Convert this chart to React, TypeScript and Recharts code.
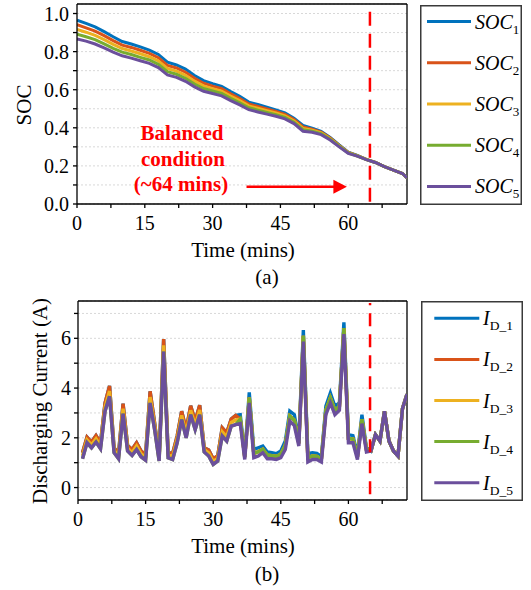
import React from 'react';
import { LineChart, Line, XAxis, YAxis, CartesianGrid, ReferenceLine, ReferenceDot, Legend } from 'recharts';

const FONT = 'Liberation Serif, Times New Roman, Times, serif';
const COLORS = ['#0072BD', '#D95319', '#EDB120', '#77AC30', '#6B4F9C'];

// ---- (a) SOC data ----
const socTime = [0, 2, 4, 6, 8, 10, 12, 14, 16, 18, 20, 22, 24, 26, 28, 30, 32, 34, 36, 38, 40, 42, 44, 46, 48, 50, 52, 54, 56, 58, 60, 62, 64, 66, 68, 70, 72, 73];
const soc1 = [0.965, 0.948, 0.930, 0.905, 0.878, 0.853, 0.840, 0.825, 0.808, 0.785, 0.745, 0.730, 0.708, 0.675, 0.648, 0.632, 0.618, 0.590, 0.565, 0.535, 0.522, 0.508, 0.494, 0.478, 0.450, 0.412, 0.398, 0.382, 0.350, 0.310, 0.272, 0.255, 0.234, 0.218, 0.196, 0.178, 0.160, 0.137];
const soc2 = [0.941, 0.925, 0.908, 0.884, 0.858, 0.834, 0.822, 0.807, 0.791, 0.768, 0.728, 0.714, 0.692, 0.660, 0.634, 0.619, 0.606, 0.578, 0.554, 0.525, 0.512, 0.499, 0.486, 0.470, 0.443, 0.405, 0.393, 0.378, 0.347, 0.308, 0.271, 0.254, 0.234, 0.218, 0.196, 0.178, 0.160, 0.137];
const soc3 = [0.916, 0.902, 0.885, 0.863, 0.838, 0.816, 0.803, 0.789, 0.773, 0.751, 0.712, 0.698, 0.676, 0.645, 0.620, 0.606, 0.593, 0.567, 0.543, 0.515, 0.503, 0.490, 0.478, 0.463, 0.436, 0.397, 0.388, 0.373, 0.343, 0.305, 0.269, 0.253, 0.234, 0.218, 0.196, 0.178, 0.160, 0.137];
const soc4 = [0.892, 0.878, 0.863, 0.841, 0.817, 0.797, 0.785, 0.770, 0.756, 0.733, 0.695, 0.681, 0.660, 0.630, 0.606, 0.593, 0.581, 0.555, 0.531, 0.505, 0.493, 0.481, 0.469, 0.455, 0.429, 0.390, 0.382, 0.369, 0.340, 0.303, 0.268, 0.252, 0.233, 0.218, 0.196, 0.178, 0.160, 0.137];
const soc5 = [0.867, 0.855, 0.840, 0.820, 0.797, 0.778, 0.766, 0.752, 0.738, 0.716, 0.678, 0.665, 0.644, 0.615, 0.592, 0.580, 0.568, 0.543, 0.520, 0.495, 0.483, 0.472, 0.461, 0.447, 0.422, 0.382, 0.377, 0.364, 0.336, 0.300, 0.266, 0.251, 0.233, 0.218, 0.196, 0.178, 0.160, 0.137];

// ---- (b) discharging current data ----
const iTime = [1, 2, 3, 4, 5, 6, 7, 8, 9, 10, 11, 12, 13, 14, 15, 16, 17, 18, 19, 20, 21, 22, 23, 24, 25, 26, 27, 28, 29, 30, 31, 32, 33, 34, 35, 36, 37, 38, 39, 40, 41, 42, 43, 44, 45, 46, 47, 48, 49, 50, 51, 52, 53, 54, 55, 56, 57, 58, 59, 60, 61, 62, 63, 64, 65, 66, 67, 68, 69, 70, 71, 72, 73];
const id1 = [1.40, 2.03, 1.83, 2.09, 1.80, 3.40, 4.09, 1.60, 1.36, 3.37, 1.69, 1.53, 1.80, 1.47, 1.33, 3.87, 2.60, 1.20, 5.97, 1.40, 1.37, 2.07, 3.07, 2.33, 3.29, 2.67, 3.31, 1.60, 1.51, 1.16, 1.27, 2.40, 2.20, 2.76, 2.90, 2.93, 1.30, 3.83, 1.53, 1.60, 1.67, 1.43, 1.40, 1.36, 1.47, 1.87, 3.07, 2.93, 1.87, 6.33, 1.36, 1.40, 1.37, 1.24, 3.27, 3.80, 3.27, 3.40, 6.64, 2.13, 2.09, 1.33, 2.93, 1.60, 1.47, 2.13, 1.87, 3.07, 1.87, 1.47, 1.27, 3.17, 3.75];
const id2 = [1.40, 2.03, 1.83, 2.09, 1.80, 3.40, 4.09, 1.60, 1.36, 3.37, 1.69, 1.53, 1.80, 1.47, 1.33, 3.87, 2.60, 1.20, 5.97, 1.40, 1.37, 2.07, 3.07, 2.33, 3.29, 2.67, 3.31, 1.60, 1.51, 1.16, 1.27, 2.40, 2.20, 2.76, 2.90, 2.75, 1.22, 3.62, 1.37, 1.44, 1.54, 1.30, 1.28, 1.25, 1.34, 1.70, 2.87, 2.71, 1.77, 6.10, 1.20, 1.27, 1.25, 1.14, 3.10, 3.60, 3.10, 3.26, 6.41, 1.97, 1.95, 1.23, 2.75, 1.52, 1.47, 2.13, 1.87, 3.07, 1.87, 1.47, 1.27, 3.17, 3.75];
const id3 = [1.28, 1.92, 1.72, 1.96, 1.68, 3.24, 3.88, 1.50, 1.26, 3.17, 1.58, 1.41, 1.67, 1.36, 1.22, 3.64, 2.47, 1.14, 5.72, 1.30, 1.25, 1.94, 2.90, 2.17, 3.11, 2.50, 3.12, 1.52, 1.39, 1.05, 1.17, 2.24, 2.04, 2.62, 2.72, 2.75, 1.22, 3.62, 1.37, 1.44, 1.54, 1.30, 1.28, 1.25, 1.34, 1.70, 2.87, 2.71, 1.77, 6.10, 1.20, 1.27, 1.25, 1.14, 3.10, 3.60, 3.10, 3.26, 6.41, 1.97, 1.95, 1.23, 2.75, 1.52, 1.47, 2.13, 1.87, 3.07, 1.87, 1.47, 1.27, 3.17, 3.75];
const id4 = [1.16, 1.80, 1.60, 1.83, 1.56, 3.07, 3.67, 1.40, 1.16, 2.97, 1.47, 1.29, 1.53, 1.24, 1.10, 3.40, 2.33, 1.07, 5.47, 1.20, 1.13, 1.80, 2.73, 2.00, 2.93, 2.33, 2.93, 1.43, 1.27, 0.93, 1.07, 2.07, 1.87, 2.47, 2.53, 2.75, 1.22, 3.62, 1.37, 1.44, 1.54, 1.30, 1.28, 1.25, 1.34, 1.70, 2.87, 2.71, 1.77, 6.10, 1.20, 1.27, 1.25, 1.14, 3.10, 3.60, 3.10, 3.26, 6.41, 1.97, 1.95, 1.23, 2.75, 1.52, 1.47, 2.13, 1.87, 3.07, 1.87, 1.47, 1.27, 3.17, 3.75];
const id5 = [1.16, 1.80, 1.60, 1.83, 1.56, 3.07, 3.67, 1.40, 1.16, 2.97, 1.47, 1.29, 1.53, 1.24, 1.10, 3.40, 2.33, 1.07, 5.47, 1.20, 1.13, 1.80, 2.73, 2.00, 2.93, 2.33, 2.93, 1.43, 1.27, 0.93, 1.07, 2.07, 1.87, 2.47, 2.53, 2.57, 1.13, 3.40, 1.20, 1.27, 1.40, 1.16, 1.16, 1.13, 1.20, 1.53, 2.67, 2.49, 1.67, 5.87, 1.03, 1.13, 1.13, 1.03, 2.93, 3.40, 2.93, 3.11, 6.17, 1.80, 1.80, 1.13, 2.57, 1.43, 1.47, 2.13, 1.87, 3.07, 1.87, 1.47, 1.27, 3.17, 3.75];

// ---- ticks / labels ----
const xTicks = [0, 7.5, 15, 22.5, 30, 37.5, 45, 52.5, 60, 67.5];
const socTicks = [0, 0.1, 0.2, 0.3, 0.4, 0.5, 0.6, 0.7, 0.8, 0.9, 1.0];
const curTicks = [0, 1, 2, 3, 4, 5, 6, 7];
const socSubs = ['1', '2', '3', '4', '5'];
const curSubs = ['D_1', 'D_2', 'D_3', 'D_4', 'D_5'];

// annotation positions (data units)
const BAL_T = 64.8;
const ARROW_Y = 0.091;
const ARROW_FROM = 37.5;
const ARROW_SHAFT_END = 57;
const ARROW_TIP = 59.7;

const socRows = socTime.map((t, i) => ({ t, s1: soc1[i], s2: soc2[i], s3: soc3[i], s4: soc4[i], s5: soc5[i] }));
const curRows = iTime.map((t, i) => ({ t, c1: id1[i], c2: id2[i], c3: id3[i], c4: id4[i], c5: id5[i] }));

const fmtX = (v: number) => (v % 15 === 0 ? String(v) : '');
const fmtSoc = (v: number) => (Math.round(v * 10) % 2 === 0 ? v.toFixed(1) : '');
const fmtCur = (v: number) => (v % 2 === 0 ? String(v) : '');

const serif = { fontFamily: FONT };
const tickStyle = { fill: '#000', fontSize: 20, fontFamily: FONT, style: serif };
const axisLineStyle = { stroke: '#000', strokeWidth: 1.3 };

const SocLegend = (props: any) => {
  const payload = props.payload || [];
  return (
    <svg width={102} height={200} style={{ display: 'block' }}>
      <rect x={0.75} y={0.75} width={100.5} height={198.5} fill="#fff" stroke="#3a3a3a" strokeWidth={1.5} />
      {payload.map((p: any, i: number) => {
        const cy = 16.6 + i * 41.2;
        return (
          <g key={i}>
            <line x1={7} x2={51} y1={cy} y2={cy} stroke={p.color} strokeWidth={3} />
            <text x={55} y={cy + 7} fontFamily={FONT} style={serif} fontSize={20} fontStyle="italic" fill="#000">
              SOC<tspan fontSize={13} dy={5} fontStyle="normal">{socSubs[i]}</tspan>
            </text>
          </g>
        );
      })}
    </svg>
  );
};

const CurLegend = (props: any) => {
  const payload = props.payload || [];
  return (
    <svg width={102} height={200} style={{ display: 'block' }}>
      <rect x={0.75} y={0.75} width={100.5} height={198.5} fill="#fff" stroke="#3a3a3a" strokeWidth={1.5} />
      {payload.map((p: any, i: number) => {
        const cy = 17.3 + i * 41.1;
        return (
          <g key={i}>
            <line x1={13.3} x2={58.3} y1={cy} y2={cy} stroke={p.color} strokeWidth={3} />
            <text x={62} y={cy + 7} fontFamily={FONT} style={serif} fontSize={20} fontStyle="italic" fill="#000">
              I<tspan fontSize={13.5} dy={5} fontStyle="normal">{curSubs[i]}</tspan>
            </text>
          </g>
        );
      })}
    </svg>
  );
};

const ArrowHead = (props: any) => {
  const { cx, cy } = props;
  if (cx == null || cy == null) return null;
  return <polygon points={`${cx},${cy} ${cx - 13.5},${cy - 7} ${cx - 13.5},${cy + 7}`} fill="#ff0000" />;
};

export default function App() {
  return (
    <div style={{ position: 'absolute', left: 0, top: 0, width: 531, height: 590, background: '#fff', overflow: 'hidden', fontFamily: FONT }}>
      <div style={{ position: 'absolute', left: 0, top: 0 }}>
        <LineChart width={531} height={260} data={socRows} margin={{ top: 4, right: 124, bottom: 0, left: 0 }} style={serif}>
          <CartesianGrid vertical={false} stroke="#d8d8d8" strokeDasharray="2 2" />
          <XAxis type="number" dataKey="t" domain={[0, 73]} ticks={xTicks} interval={0} tickFormatter={fmtX}
            height={56} tickSize={4} tickMargin={8} axisLine={axisLineStyle} tickLine={axisLineStyle} tick={tickStyle} allowDataOverflow />
          <YAxis type="number" domain={[0, 1.05]} ticks={socTicks} interval={0} tickFormatter={fmtSoc}
            width={77} tickSize={4} tickMargin={4} axisLine={axisLineStyle} tickLine={axisLineStyle} tick={tickStyle} allowDataOverflow />
          <ReferenceLine y={1.05} stroke="#000" strokeWidth={1.3} />
          <ReferenceLine x={73} stroke="#000" strokeWidth={1.3} />
          {['s1', 's2', 's3', 's4', 's5'].map((k, i) => (
            <Line key={k} type="linear" dataKey={k} name={`SOC${i + 1}`} stroke={COLORS[i]} strokeWidth={3} dot={false} isAnimationActive={false} />
          ))}
          <ReferenceLine segment={[{ x: BAL_T, y: 0.012 }, { x: BAL_T, y: 1.021 }]} stroke="#ff0000" strokeWidth={2.5} strokeDasharray="14 8" />
          <ReferenceLine segment={[{ x: ARROW_FROM, y: ARROW_Y }, { x: ARROW_SHAFT_END, y: ARROW_Y }]} stroke="#ff0000" strokeWidth={2.5} />
          <ReferenceDot x={ARROW_TIP} y={ARROW_Y} r={1} shape={ArrowHead} />
          <Legend layout="horizontal" verticalAlign="middle" align="center" content={SocLegend}
            wrapperStyle={{ left: 420, top: 4.5, width: 102, height: 200 }} />
        </LineChart>
      </div>
      <div style={{ position: 'absolute', left: 0, top: 296 }}>
        <LineChart width={531} height={260} data={curRows} margin={{ top: 5, right: 124, bottom: 0, left: 0 }} style={serif}>
          <CartesianGrid vertical={false} stroke="#d8d8d8" strokeDasharray="2 2" />
          <XAxis type="number" dataKey="t" domain={[0, 73]} ticks={xTicks} interval={0} tickFormatter={fmtX}
            height={56} tickSize={4} tickMargin={8} axisLine={axisLineStyle} tickLine={axisLineStyle} tick={tickStyle} allowDataOverflow />
          <YAxis type="number" domain={[-0.5, 7.5]} ticks={curTicks} interval={0} tickFormatter={fmtCur}
            width={78} tickSize={4} tickMargin={3} axisLine={axisLineStyle} tickLine={axisLineStyle} tick={tickStyle} allowDataOverflow />
          <ReferenceLine y={7.5} stroke="#000" strokeWidth={1.3} />
          <ReferenceLine x={73} stroke="#000" strokeWidth={1.3} />
          {['c1', 'c2', 'c3', 'c4', 'c5'].map((k, i) => (
            <Line key={k} type="linear" dataKey={k} name={`I_D_${i + 1}`} stroke={COLORS[i]} strokeWidth={3.4} dot={false} isAnimationActive={false} />
          ))}
          <ReferenceLine segment={[{ x: BAL_T, y: -0.27 }, { x: BAL_T, y: 7.42 }]} stroke="#ff0000" strokeWidth={2.5} strokeDasharray="13 8" />
          <Legend layout="horizontal" verticalAlign="middle" align="center" content={CurLegend}
            wrapperStyle={{ left: 420.5, top: 5, width: 102, height: 200 }} />
        </LineChart>
      </div>
      <svg width={531} height={590} style={{ position: 'absolute', left: 0, top: 0, pointerEvents: 'none', fontFamily: FONT }}>
        <g fill="#000" fontSize={21}>
          <text x={31} y={105} textAnchor="middle" transform="rotate(-90 31 105)">SOC</text>
          <text x={243} y={257} textAnchor="middle">Time (mins)</text>
          <text x={267} y={284} textAnchor="middle">(a)</text>
          <text x={47} y={401} textAnchor="middle" transform="rotate(-90 47 401)">Discharging Current (A)</text>
          <text x={243} y={553} textAnchor="middle">Time (mins)</text>
          <text x={267} y={580.5} textAnchor="middle">(b)</text>
        </g>
        <g fill="#ff0000" fontSize={21} fontWeight="bold" textAnchor="middle">
          <text x={182} y={139.5}>Balanced</text>
          <text x={183} y={166}>condition</text>
          <text x={181} y={191}>(~64 mins)</text>
        </g>
      </svg>
    </div>
  );
}
